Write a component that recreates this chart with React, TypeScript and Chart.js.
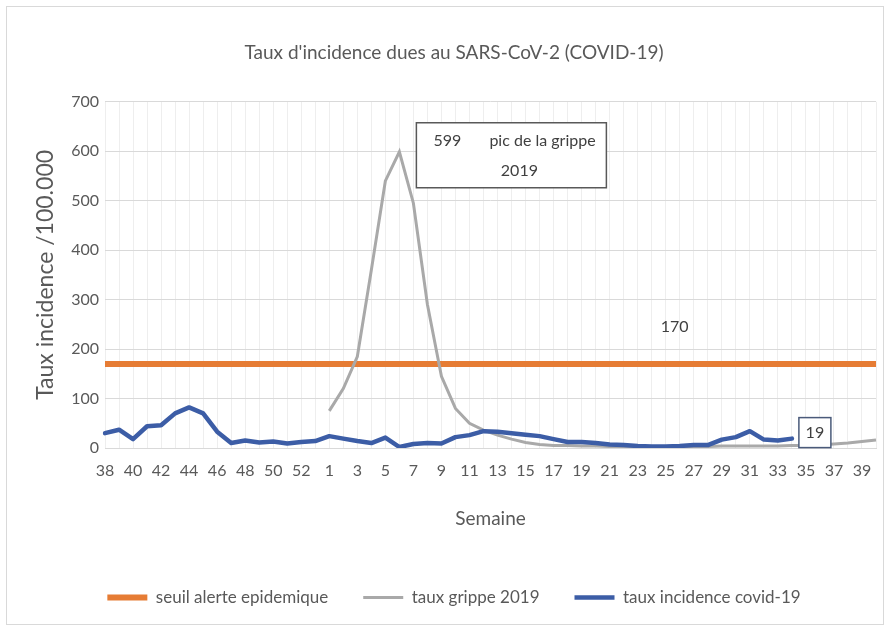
import React, { useEffect, useRef } from 'react';
import { Chart, registerables } from 'chart.js';

Chart.register(...registerables);

const FONT = "Lato, 'Open Sans', 'Liberation Sans', sans-serif";
const TEXT = '#595959';

const weeks = [
  '38', '39', '40', '41', '42', '43', '44', '45', '46', '47', '48', '49', '50', '51', '52', '53',
  '1', '2', '3', '4', '5', '6', '7', '8', '9', '10', '11', '12', '13', '14', '15', '16', '17', '18', '19', '20',
  '21', '22', '23', '24', '25', '26', '27', '28', '29', '30', '31', '32', '33', '34', '35', '36', '37', '38', '39', '40',
];

const seuilAlerte = [
  170, 170, 170, 170, 170, 170, 170, 170, 170, 170, 170, 170, 170, 170, 170, 170,
  170, 170, 170, 170, 170, 170, 170, 170, 170, 170, 170, 170, 170, 170, 170, 170, 170, 170, 170, 170,
  170, 170, 170, 170, 170, 170, 170, 170, 170, 170, 170, 170, 170, 170, 170, 170, 170, 170, 170, 170,
];

const tauxGrippe2019 = [
  null, null, null, null, null, null, null, null, null, null, null, null, null, null, null, null,
  75, 120, 185, 360, 540, 599, 495, 290, 145, 80, 50, 36, 26, 18, 11, 7, 5, 5, 4, 4,
  3, 3, 3, 3, 3, 3, 3, 3, 4, 4, 4, 4, 4, 5, 5, 6, 8, 10, 13, 16,
];

const tauxCovid19 = [
  30, 37, 18, 44, 46, 70, 82, 70, 33, 10, 15, 11, 13, 9, 12, 14,
  24, 19, 14, 10, 21, 2, 8, 10, 9, 22, 26, 34, 33, 30, 27, 24, 18, 12, 12, 10,
  7, 6, 4, 3, 3, 4, 6, 6, 17, 22, 34, 17, 15, 19, null, null, null, null, null, null,
];

const yTickValues = [0, 100, 200, 300, 400, 500, 600, 700];

const chartTitle = "Taux d'incidence dues au SARS-CoV-2 (COVID-19)";
const yAxisTitle = 'Taux incidence /100.000';
const xAxisTitle = 'Semaine';
const seriesNames = ['seuil alerte epidemique', 'taux grippe 2019', 'taux incidence covid-19'];

const peakNote = { index: 21, value: 599, first: '599', second: 'pic de la grippe', third: '2019' };
const seuilNote = { index: 40, value: 245, text: '170' };
const lastNote = { index: 49, value: 19, text: '19' };

const notesPlugin = {
  id: 'notes',
  afterDatasetsDraw(chart: any) {
    const { ctx } = chart;
    const x = chart.scales.x;
    const y = chart.scales.y;
    ctx.save();
    ctx.font = `16px ${FONT}`;
    ctx.textBaseline = 'middle';

    // peak box
    const px = x.getPixelForValue(peakNote.index);
    const py = y.getPixelForValue(peakNote.value);
    const bx = px + 17;
    const by = py - 29;
    const bw = 190;
    const bh = 65;
    ctx.fillStyle = '#ffffff';
    ctx.fillRect(bx, by, bw, bh);
    ctx.strokeStyle = '#595959';
    ctx.lineWidth = 1.5;
    ctx.strokeRect(bx, by, bw, bh);
    ctx.fillStyle = '#404040';
    ctx.textAlign = 'left';
    ctx.fillText(peakNote.first, bx + 17, by + 18);
    ctx.fillText(peakNote.second, bx + 73, by + 18);
    ctx.textAlign = 'center';
    ctx.fillText(peakNote.third, bx + 103, by + 48);

    // 170 label
    ctx.fillText(seuilNote.text, x.getPixelForValue(seuilNote.index) + 9, y.getPixelForValue(seuilNote.value));

    // 19 box
    const lx = x.getPixelForValue(lastNote.index) + 23;
    const ly = y.getPixelForValue(lastNote.value) - 6;
    ctx.fillStyle = '#ffffff';
    ctx.fillRect(lx - 16, ly - 15, 32, 30);
    ctx.strokeStyle = '#4a5a7a';
    ctx.lineWidth = 1.5;
    ctx.strokeRect(lx - 16, ly - 15, 32, 30);
    ctx.fillStyle = '#404040';
    ctx.fillText(lastNote.text, lx, ly);
    ctx.restore();
  },
};

export default function App() {
  const ref = useRef<HTMLCanvasElement>(null);

  useEffect(() => {
    if (!ref.current) return;
    const chart = new Chart(ref.current, {
      type: 'line',
      data: {
        labels: weeks,
        datasets: [
          {
            label: seriesNames[0],
            data: seuilAlerte,
            borderColor: '#E67C34',
            backgroundColor: '#E67C34',
            borderWidth: 6,
            pointRadius: 0,
            order: 3,
          },
          {
            label: seriesNames[1],
            data: tauxGrippe2019,
            borderColor: '#A9A9A9',
            backgroundColor: '#A9A9A9',
            borderWidth: 3,
            pointRadius: 0,
            order: 2,
          },
          {
            label: seriesNames[2],
            data: tauxCovid19,
            borderColor: '#3C5DA6',
            backgroundColor: '#3C5DA6',
            borderWidth: 4.5,
            pointRadius: 0,
            borderCapStyle: 'round',
            borderJoinStyle: 'round',
            order: 1,
          },
        ],
      },
      options: {
        animation: false,
        responsive: false,
        events: [],
        layout: { padding: { left: 28, right: 9, top: 10, bottom: 14 } },
        plugins: {
          title: {
            display: true,
            text: chartTitle,
            color: TEXT,
            font: { family: FONT, size: 19, weight: 'normal' },
            padding: { top: 31, bottom: 38 },
          },
          legend: {
            position: 'bottom',
            labels: {
              usePointStyle: true,
              pointStyle: 'line',
              pointStyleWidth: 40,
              color: TEXT,
              font: { family: FONT, size: 17 },
              padding: 35,
              sort: (a: any, b: any) => a.datasetIndex - b.datasetIndex,
            },
          },
          tooltip: { enabled: false },
        },
        scales: {
          x: {
            offset: false,
            grid: { color: '#eeeeee', drawTicks: false },
            border: { color: '#d9d9d9' },
            ticks: {
              autoSkip: false,
              maxRotation: 0,
              minRotation: 0,
              padding: 13,
              color: TEXT,
              font: { family: FONT, size: 16 },
              callback: (_v: any, i: number) => (i % 2 === 0 ? weeks[i] : ''),
            },
            title: {
              display: true,
              text: xAxisTitle,
              color: TEXT,
              font: { family: FONT, size: 19 },
              padding: { top: 14, bottom: 24 },
            },
          },
          y: {
            min: yTickValues[0],
            max: yTickValues[yTickValues.length - 1],
            afterBuildTicks: (scale: any) => {
              scale.ticks = yTickValues.map((v) => ({ value: v }));
            },
            afterFit: (scale: any) => {
              scale.width = 77;
            },
            grid: { color: '#d9d9d9', drawTicks: false },
            border: { display: false },
            ticks: {
              padding: 6,
              color: TEXT,
              font: { family: FONT, size: 16 },
            },
            title: {
              display: true,
              text: yAxisTitle,
              color: TEXT,
              font: { family: FONT, size: 23 },
              padding: { top: 4, bottom: 0 },
            },
          },
        },
      },
      plugins: [notesPlugin],
    } as any);
    return () => chart.destroy();
  }, []);

  return (
    <div style={{ position: 'absolute', left: 0, top: 0, width: 889, height: 630, background: '#fff' }}>
      <canvas ref={ref} width={889} height={630} style={{ display: 'block' }} />
      <div
        style={{
          position: 'absolute',
          left: 6,
          top: 6,
          width: 876,
          height: 617,
          border: '1px solid #d9d9d9',
          pointerEvents: 'none',
        }}
      />
    </div>
  );
}
